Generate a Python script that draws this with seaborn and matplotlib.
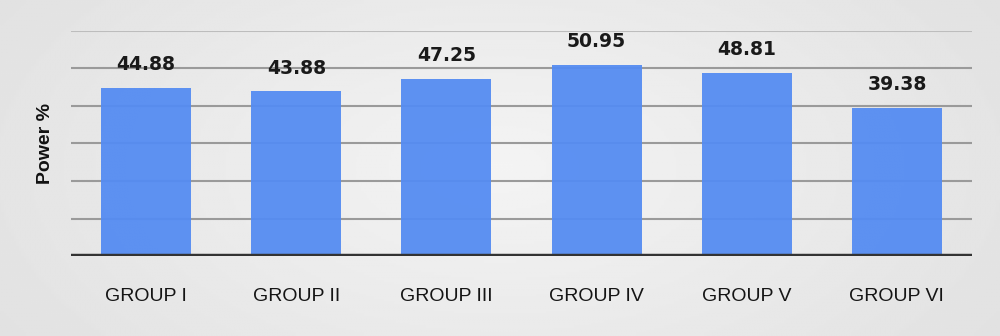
import numpy as np
import pandas as pd
import matplotlib
matplotlib.use("Agg")
import matplotlib.pyplot as plt
import seaborn as sns

categories = ["GROUP I", "GROUP II", "GROUP III", "GROUP IV", "GROUP V", "GROUP VI"]
values = [44.88, 43.88, 47.25, 50.95, 48.81, 39.38]
value_labels = ["44.88", "43.88", "47.25", "50.95", "48.81", "39.38"]

sns.set_theme(style="white")
plt.rcParams['font.family'] = ['Liberation Sans', 'DejaVu Sans']

df = pd.DataFrame({"group": categories, "power": values})

fig = plt.figure(figsize=(10, 3.36), dpi=100)

# gradient background
bg = fig.add_axes([0, 0, 1, 1], zorder=-10)
xx = np.linspace(-1, 1, 400)
yy = np.linspace(-1, 1, 140)
X, Y = np.meshgrid(xx, yy)
R = np.sqrt((X * 0.8) ** 2 + (Y * 0.5) ** 2)
shade = 0.955 - 0.075 * np.clip(R, 0, 1.2)
bg.imshow(shade, cmap="gray", vmin=0, vmax=1, aspect="auto", extent=[0, 1, 0, 1])
bg.axis("off")

ax = fig.add_axes([0.071, 0.238, 0.901, 0.670])
ax.patch.set_alpha(0)

sns.barplot(data=df, x="group", y="power", color="#558CF2", width=0.6,
            saturation=1, ax=ax, zorder=3, alpha=0.95, linewidth=0)

ax.set_ylim(0, 60)
ax.set_xlim(-0.5, 5.5)
for v in range(10, 61, 10):
    ax.axhline(v, color="#9a9a9a" if v < 60 else "#bdbdbd", lw=1.5, zorder=1)
ax.axhline(0, color="#333333", lw=3.2, zorder=5)

for sp in ax.spines.values():
    sp.set_visible(False)
ax.set_yticks([])
ax.set_xlabel("")
ax.set_ylabel("Power %", fontsize=14, fontweight="bold", color="#111111", labelpad=12)
ax.tick_params(axis="x", length=0, pad=23, labelsize=14, labelcolor="#151515")

for i, (v, lab) in enumerate(zip(values, value_labels)):
    ax.annotate(lab, (i, v), xytext=(0, 10), textcoords="offset points",
                ha="center", va="bottom", fontsize=13.5, fontweight="bold",
                color="#1a1a1a", family="DejaVu Sans")

fig.savefig("out.png", dpi=100)
